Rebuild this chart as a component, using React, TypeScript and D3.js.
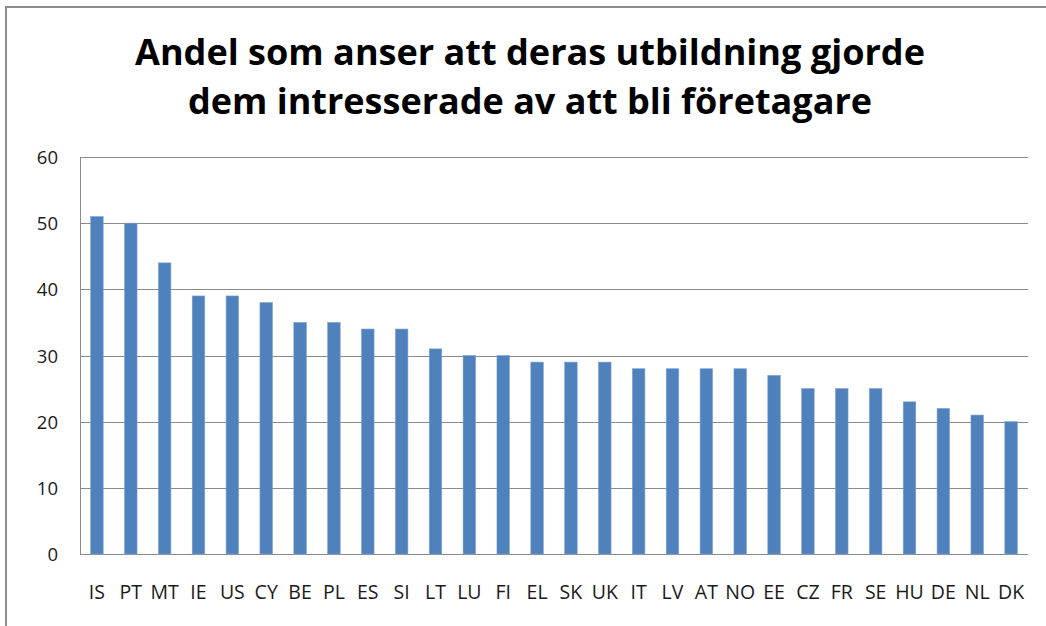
import React, { useRef, useEffect } from 'react';
import * as d3 from 'd3';

const countries = ['IS', 'PT', 'MT', 'IE', 'US', 'CY', 'BE', 'PL', 'ES', 'SI', 'LT', 'LU', 'FI', 'EL',
  'SK', 'UK', 'IT', 'LV', 'AT', 'NO', 'EE', 'CZ', 'FR', 'SE', 'HU', 'DE', 'NL', 'DK'];
const shares = [51, 50, 44, 39, 39, 38, 35, 35, 34, 34, 31, 30, 30, 29,
  29, 29, 28, 28, 28, 28, 27, 25, 25, 25, 23, 22, 21, 20];
const yTicks = [0, 10, 20, 30, 40, 50, 60];
const titleLines = ['Andel som anser att deras utbildning gjorde', 'dem intresserade av att bli företagare'];

const W = 1046;
const H = 626;
const FONT = '"Open Sans", "DejaVu Sans", sans-serif';

const App: React.FC = () => {
  const svgRef = useRef<SVGSVGElement>(null);

  useEffect(() => {
    if (!svgRef.current) return;
    const svg = d3.select(svgRef.current);
    svg.selectAll('*').remove();

    // outer chart frame
    svg.append('rect')
      .attr('x', 6).attr('y', 7)
      .attr('width', W).attr('height', H)
      .attr('fill', '#fff')
      .attr('stroke', '#8c8c8c')
      .attr('stroke-width', 2);

    // title
    const titleX = [135, 188];
    const titleW = [790, 684];
    const titleY = [65, 114];
    titleLines.forEach((t, i) => {
      svg.append('text')
        .attr('x', titleX[i])
        .attr('y', titleY[i])
        .attr('textLength', titleW[i])
        .attr('lengthAdjust', 'spacingAndGlyphs')
        .attr('font-family', FONT)
        .attr('font-weight', 'bold')
        .attr('font-size', 36)
        .attr('fill', '#000')
        .text(t);
    });

    const left = 80, right = 1028, top = 157, bottom = 554;

    const x = d3.scaleBand<string>()
      .domain(countries)
      .range([left, right])
      .paddingInner(0.63)
      .paddingOuter(0.315);

    const y = d3.scaleLinear().domain([0, 60]).range([bottom, top]);

    // gridlines
    svg.append('g')
      .selectAll('line')
      .data(yTicks)
      .enter().append('line')
      .attr('x1', left).attr('x2', right)
      .attr('y1', d => Math.round(y(d)) + 0.5)
      .attr('y2', d => Math.round(y(d)) + 0.5)
      .attr('stroke', '#8a8a8a')
      .attr('stroke-width', 1);

    // y axis line
    svg.append('line')
      .attr('x1', left + 0.5).attr('x2', left + 0.5)
      .attr('y1', top).attr('y2', bottom)
      .attr('stroke', '#8a8a8a');

    // y tick labels
    svg.append('g')
      .selectAll('text')
      .data(yTicks)
      .enter().append('text')
      .attr('x', 58)
      .attr('y', d => y(d) + 7)
      .attr('text-anchor', 'end')
      .attr('font-family', FONT)
      .attr('font-size', 18.5)
      .attr('fill', '#1a1a1a')
      .text(d => d);

    // bars
    svg.append('g')
      .selectAll('rect')
      .data(countries)
      .enter().append('rect')
      .attr('x', d => x(d)!)
      .attr('y', (d, i) => y(shares[i]))
      .attr('width', x.bandwidth())
      .attr('height', (d, i) => bottom - y(shares[i]))
      .attr('fill', '#4f81bd')
      .attr('stroke', '#7ea3d3')
      .attr('stroke-width', 0.6);

    // category labels
    svg.append('g')
      .selectAll('text')
      .data(countries)
      .enter().append('text')
      .attr('x', d => x(d)! + x.bandwidth() / 2)
      .attr('y', 599)
      .attr('text-anchor', 'middle')
      .attr('font-family', FONT)
      .attr('font-size', 19.5)
      .attr('fill', '#1a1a1a')
      .text(d => d);
  }, []);

  return (
    <svg
      ref={svgRef}
      width={W}
      height={H}
      style={{ position: 'absolute', left: 0, top: 0, display: 'block' }}
    />
  );
};

export default App;
